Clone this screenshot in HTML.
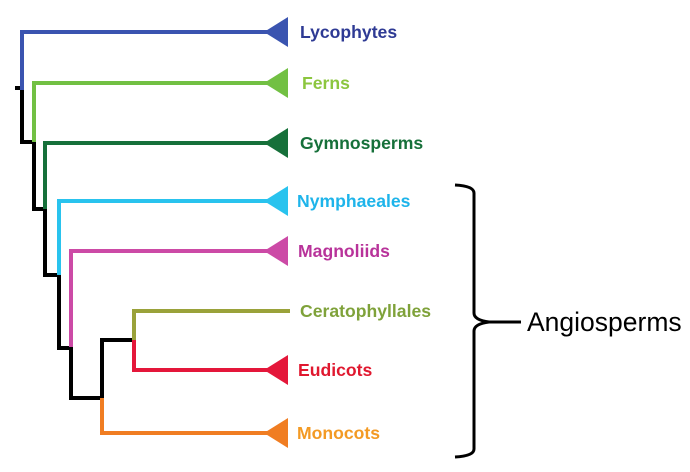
<!DOCTYPE html>
<html><head><meta charset="utf-8"><style>
html,body{margin:0;padding:0;background:#fff;}
svg{display:block;}
text{font-family:"Liberation Sans",Arial,sans-serif;}
.l{font-weight:bold;font-size:17.6px;}
</style></head><body>
<svg width="690" height="472" viewBox="0 0 690 472" xmlns="http://www.w3.org/2000/svg">
<g fill="none" stroke-width="4" stroke-linecap="square">
<path d="M17 88 H22 V142 H34 V209 H45 V275 H59 V348 H71 V398 H102 V340 H134" stroke="#000"/>
<path d="M22 88 V32 H268" stroke="#3a54b0"/>
<path d="M34 140 V83 H268" stroke="#72c043"/>
<path d="M45 207 V143 H268" stroke="#16703a"/>
<path d="M59 273 V201 H268" stroke="#29c3ee"/>
<path d="M71 345 V251 H268" stroke="#cc4aa6"/>
<path d="M134 338 V311 H288" stroke="#9aa23a"/>
<path d="M134 342 V370 H268" stroke="#e4173a"/>
<path d="M102 400 V433 H268" stroke="#f07d22"/>
</g>
<polygon points="264,32 288,17 288,47" fill="#3a54b0"/>
<polygon points="264,83 288,68 288,98" fill="#72c043"/>
<polygon points="264,143 288,128 288,158" fill="#16703a"/>
<polygon points="264,201 288,186 288,216" fill="#29c3ee"/>
<polygon points="264,251 288,236 288,266" fill="#cc4aa6"/>
<polygon points="264,370 288,355 288,385" fill="#e4173a"/>
<polygon points="264,433 288,418 288,448" fill="#f07d22"/>
<text class="l" x="300" y="38" fill="#2e3a94">Lycophytes</text>
<text class="l" x="302" y="89" fill="#8cc63f">Ferns</text>
<text class="l" x="300" y="149" fill="#16703a">Gymnosperms</text>
<text class="l" x="297" y="207" fill="#1eb4ea">Nymphaeales</text>
<text class="l" x="298" y="257" fill="#b8339a">Magnoliids</text>
<text class="l" x="300" y="317" fill="#7fa23a">Ceratophyllales</text>
<text class="l" x="298" y="376" fill="#e0182f">Eudicots</text>
<text class="l" x="297" y="439" fill="#f39a24">Monocots</text>
<path d="M455 185 Q474 186 474 193 V313 Q474 320 489 322 H521 M489 322 Q474 324 474 331 V449 Q474 456 455 457" fill="none" stroke="#000" stroke-width="3"/>
<text x="527" y="331" font-size="26.5" fill="#000">Angiosperms</text>
</svg>
</body></html>
